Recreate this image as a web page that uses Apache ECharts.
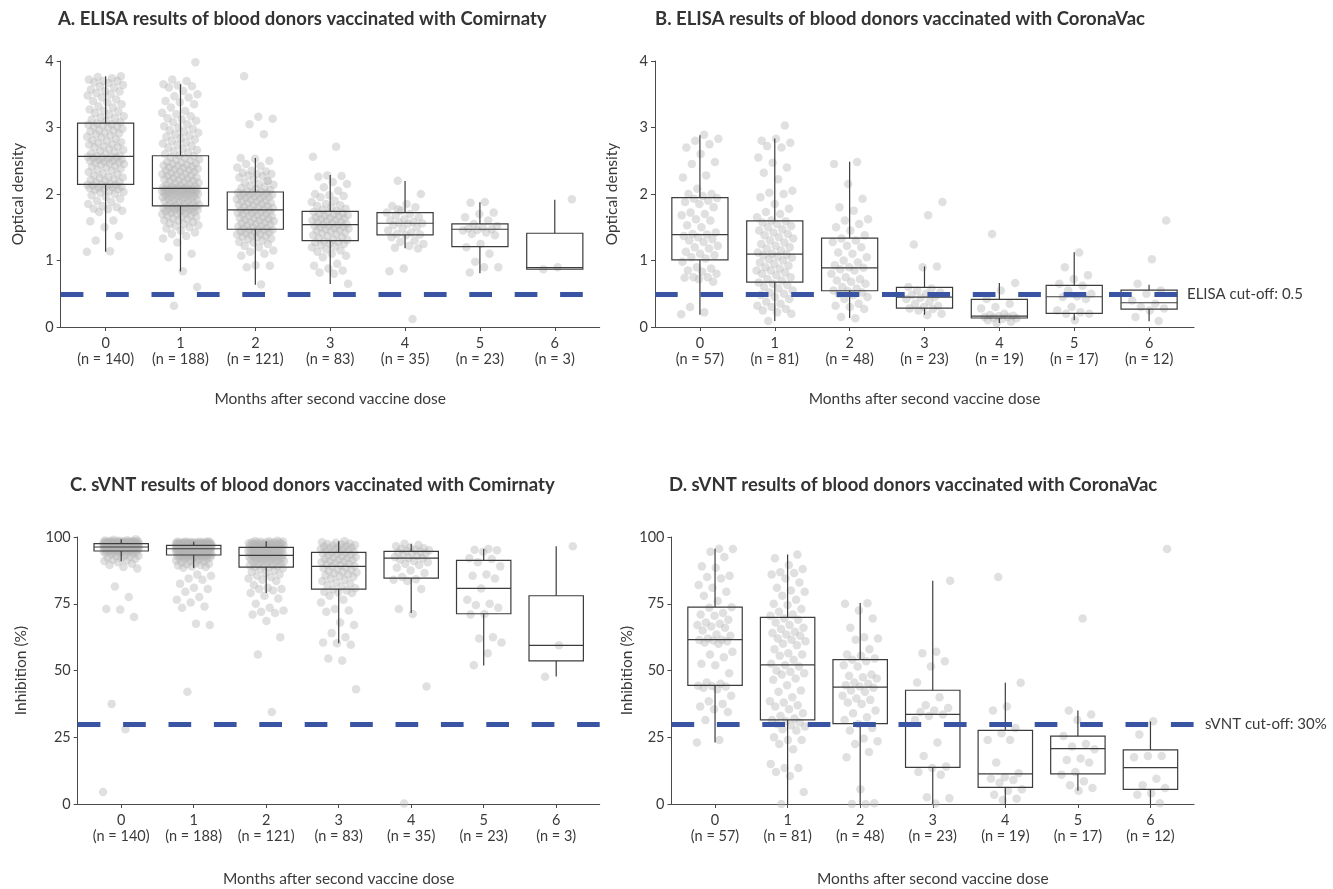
<!DOCTYPE html>
<html><head><meta charset="utf-8">
<script src="https://cdn.jsdelivr.net/npm/echarts@6/dist/echarts.min.js"></script>
<style>html,body{margin:0;padding:0;background:#fff}#c{width:1333px;height:889px}</style>
</head><body><div id="c"></div>
<script>
// ---------- data ----------
const months = ['0','1','2','3','4','5','6'];
const nComirnaty = [140,188,121,83,35,23,3];
const nCoronaVac = [57,81,48,23,19,17,12];
const titleA = 'A. ELISA results of blood donors vaccinated with Comirnaty';
const titleB = 'B. ELISA results of blood donors vaccinated with CoronaVac';
const titleC = 'C. sVNT results of blood donors vaccinated with Comirnaty';
const titleD = 'D. sVNT results of blood donors vaccinated with CoronaVac';
const xName = 'Months after second vaccine dose';
const elisaCutoff = 0.5;
const svntCutoff = 30;
const elisaTicks = [0,1,2,3,4];
const svntTicks = [0,25,50,75,100];

// box statistics per month: [min, Q1, median, Q3, max]
const boxA = [[1.13,2.145,2.565,3.065,3.77],[0.835,1.82,2.085,2.575,3.65],[0.635,1.47,1.76,2.03,2.54],[0.645,1.30,1.54,1.74,2.285],[1.185,1.385,1.56,1.72,2.195],[0.81,1.21,1.47,1.55,1.875],[0.87,0.87,0.895,1.41,1.915]];
const boxB = [[0.185,1.01,1.39,1.945,2.885],[0.09,0.675,1.095,1.595,2.835],[0.135,0.545,0.89,1.335,2.485],[0.185,0.285,0.45,0.595,0.91],[0.06,0.135,0.165,0.415,0.66],[0.10,0.205,0.455,0.625,1.125],[0.085,0.27,0.365,0.555,0.635]];
const boxC = [[90.9,94.75,96.25,97.5,99.2],[88.4,93.25,95.6,96.9,98.2],[79,88.75,93.1,96.1,98.4],[60.25,80.5,89,94.25,98.4],[71.5,84.6,92.1,94.6,97.5],[51.9,71.25,80.75,91.25,95.5],[47.75,53.6,59.4,78,96.5]];
const boxD = [[23,44.4,61.6,73.75,95.6],[0,31.5,52.1,69.9,93.4],[0,30.1,43.75,54.1,75.25],[0,13.75,33.6,42.6,83.6],[0,6.25,11.25,27.6,45.4],[5,11.25,20.75,25.4,35],[0,5.5,13.6,20.25,30.9]];

// individual donor values per month
const ptsA = [
 [1.13,1.14,1.3,1.37,1.5,1.59,1.6,1.73,1.75,1.77,1.78,1.8,1.82,1.85,1.88,1.9,1.93,1.96,1.98,2.0,2.02,2.03,2.05,2.06,2.07,2.08,2.09,2.1,2.1,2.11,2.12,2.13,2.13,2.14,2.14,
  2.15,2.17,2.18,2.2,2.21,2.22,2.24,2.25,2.26,2.28,2.3,2.31,2.33,2.35,2.36,2.38,2.4,2.41,2.42,2.44,2.45,2.46,2.47,2.48,2.49,2.5,2.5,2.51,2.52,2.53,2.54,2.55,2.55,2.56,2.56,
  2.57,2.58,2.6,2.61,2.63,2.65,2.66,2.68,2.7,2.71,2.72,2.74,2.75,2.77,2.78,2.8,2.81,2.83,2.85,2.86,2.88,2.9,2.91,2.92,2.94,2.95,2.96,2.98,3.0,3.01,3.02,3.03,3.04,3.05,3.06,
  3.08,3.1,3.12,3.14,3.15,3.17,3.2,3.22,3.24,3.25,3.27,3.3,3.32,3.35,3.38,3.4,3.42,3.45,3.48,3.5,3.52,3.54,3.55,3.57,3.6,3.62,3.64,3.67,3.68,3.7,3.7,3.72,3.74,3.76,3.77],
 [0.32,0.6,0.84,1.05,1.1,1.27,1.33,1.37,1.4,1.42,1.45,1.48,1.5,1.52,1.53,1.55,1.56,1.58,1.6,1.6,1.62,1.63,1.65,1.66,1.67,1.68,1.7,1.7,1.71,1.72,1.73,1.74,1.74,1.75,1.76,1.76,1.77,1.78,1.78,1.79,1.79,1.8,1.8,1.81,1.81,1.82,1.82,
  1.83,1.84,1.85,1.86,1.87,1.88,1.89,1.9,1.9,1.91,1.92,1.93,1.93,1.94,1.95,1.95,1.96,1.97,1.97,1.98,1.98,1.99,2.0,2.0,2.0,2.01,2.01,2.02,2.02,2.03,2.03,2.04,2.04,2.05,2.05,2.05,2.06,2.06,2.06,2.07,2.07,2.07,2.08,2.08,2.08,2.08,2.08,
  2.09,2.1,2.1,2.11,2.12,2.13,2.14,2.15,2.16,2.17,2.18,2.19,2.2,2.21,2.22,2.23,2.24,2.25,2.26,2.27,2.28,2.29,2.3,2.31,2.32,2.33,2.34,2.35,2.36,2.37,2.38,2.39,2.4,2.41,2.42,2.43,2.44,2.45,2.46,2.47,2.48,2.5,2.51,2.52,2.54,2.55,2.57,
  2.58,2.6,2.62,2.64,2.66,2.68,2.7,2.72,2.74,2.76,2.78,2.8,2.82,2.84,2.86,2.88,2.9,2.92,2.94,2.96,2.98,3.0,3.02,3.05,3.08,3.1,3.12,3.14,3.17,3.2,3.22,3.25,3.3,3.35,3.38,3.4,3.45,3.47,3.5,3.55,3.6,3.62,3.63,3.65,3.7,3.72,3.98],
 [0.64,0.9,0.92,0.93,1.07,1.1,1.13,1.15,1.2,1.22,1.25,1.27,1.28,1.3,1.32,1.33,1.35,1.36,1.37,1.38,1.39,1.4,1.41,1.42,1.43,1.44,1.45,1.45,1.46,1.47,
  1.48,1.49,1.5,1.51,1.52,1.53,1.54,1.55,1.56,1.57,1.58,1.59,1.6,1.61,1.62,1.63,1.64,1.65,1.66,1.67,1.68,1.69,1.7,1.71,1.72,1.73,1.74,1.74,1.75,1.76,
  1.77,1.78,1.79,1.8,1.81,1.82,1.83,1.84,1.85,1.86,1.87,1.88,1.89,1.9,1.91,1.92,1.93,1.94,1.95,1.96,1.97,1.97,1.98,1.99,2.0,2.0,2.01,2.02,2.02,2.03,
  2.04,2.06,2.08,2.09,2.1,2.12,2.14,2.15,2.17,2.2,2.22,2.25,2.27,2.28,2.3,2.3,2.32,2.34,2.35,2.4,2.42,2.45,2.5,2.53,2.54,2.9,3.05,3.13,3.16,3.77,2.2],
 [0.65,0.8,0.82,0.85,0.88,0.92,0.95,1.05,1.07,1.1,1.13,1.15,1.17,1.2,1.21,1.23,1.25,1.26,1.27,1.28,1.29,
  1.31,1.32,1.34,1.35,1.37,1.38,1.4,1.41,1.42,1.44,1.45,1.46,1.47,1.48,1.49,1.5,1.51,1.52,1.52,1.53,1.54,
  1.55,1.56,1.57,1.58,1.59,1.6,1.61,1.62,1.63,1.64,1.65,1.66,1.67,1.68,1.69,1.7,1.71,1.72,1.73,1.74,
  1.76,1.78,1.8,1.82,1.83,1.85,1.88,1.9,1.95,1.97,1.98,2.0,2.05,2.1,2.15,2.18,2.26,2.27,2.28,2.56,2.71],
 [2.2,2.0,1.85,1.82,1.8,1.75,1.72,1.7,1.68,1.65,1.62,1.6,1.58,1.57,1.56,1.55,1.53,1.5,1.48,1.45,1.42,1.4,1.39,1.38,1.35,1.3,1.28,1.25,1.22,1.19,1.18,0.88,0.84,0.12,1.77],
 [1.88,1.87,1.72,1.7,1.65,1.6,1.55,1.52,1.5,1.48,1.47,1.46,1.45,1.42,1.4,1.38,1.25,1.2,1.1,0.98,0.9,0.9,0.82],
 [1.92,0.9,0.87]
];
const ptsB = [
 [0.19,0.22,0.3,0.68,0.72,0.74,0.75,0.75,0.8,0.83,0.85,0.88,0.9,0.98,1.03,1.05,1.08,1.1,1.13,1.18,1.2,1.22,1.28,1.3,1.32,1.35,1.37,1.39,
  1.4,1.42,1.5,1.53,1.6,1.62,1.68,1.7,1.72,1.8,1.85,1.88,1.9,1.93,1.94,1.97,2.0,2.0,2.08,2.25,2.28,2.45,2.48,2.6,2.7,2.75,2.8,2.83,2.89],
 [0.09,0.2,0.22,0.25,0.27,0.3,0.32,0.35,0.38,0.42,0.45,0.48,0.5,0.52,0.55,0.58,0.6,0.63,0.65,0.67,
  0.7,0.72,0.75,0.78,0.8,0.82,0.85,0.85,0.88,0.9,0.92,0.95,0.97,1.0,1.02,1.04,1.06,1.08,1.09,1.1,
  1.12,1.15,1.18,1.2,1.22,1.25,1.27,1.3,1.33,1.35,1.38,1.4,1.42,1.45,1.47,1.5,1.52,1.55,1.57,1.59,1.6,
  1.65,1.7,1.73,1.78,1.85,1.95,2.0,2.02,2.05,2.22,2.32,2.4,2.47,2.55,2.7,2.72,2.77,2.83,2.8,3.03],
 [0.13,0.15,0.27,0.3,0.32,0.35,0.42,0.45,0.48,0.5,0.52,0.54,0.55,0.58,0.6,0.65,0.68,0.7,0.72,0.75,0.8,0.85,0.87,0.89,
  0.9,0.93,0.97,1.0,1.05,1.1,1.12,1.2,1.22,1.28,1.3,1.33,1.38,1.45,1.5,1.55,1.6,1.62,1.75,1.8,1.93,2.15,2.45,2.48],
 [1.88,1.68,1.24,0.91,0.9,0.6,0.58,0.55,0.52,0.5,0.48,0.45,0.44,0.42,0.38,0.35,0.32,0.3,0.28,0.27,0.25,0.2,0.18],
 [1.4,0.66,0.55,0.42,0.35,0.3,0.28,0.2,0.18,0.17,0.16,0.15,0.15,0.14,0.13,0.12,0.1,0.08,0.06],
 [1.12,0.9,0.78,0.72,0.65,0.62,0.55,0.5,0.46,0.45,0.42,0.3,0.25,0.22,0.2,0.2,0.1],
 [1.6,1.02,0.65,0.55,0.5,0.4,0.35,0.3,0.28,0.25,0.15,0.09]
];
const ptsC = [
 [4.5,28,37.5,70,72.8,73,77.5,81.5,
  88.2,88.8,89.5,90,90.5,91,91.2,91.5,91.8,92,92.2,92.5,92.8,93,93.2,93.5,93.7,93.9,94,94.1,94.2,94.3,94.4,94.5,94.6,94.7,94.7,
  94.8,94.9,95,95,95.1,95.1,95.2,95.2,95.3,95.3,95.4,95.4,95.5,95.5,95.6,95.6,95.7,95.7,95.8,95.8,95.9,95.9,96,96,96,96.1,96.1,96.1,96.2,96.2,96.2,96.2,96.3,96.3,96.3,
  96.3,96.4,96.4,96.4,96.5,96.5,96.5,96.6,96.6,96.6,96.7,96.7,96.7,96.8,96.8,96.8,96.9,96.9,96.9,97,97,97,97.1,97.1,97.1,97.2,97.2,97.2,97.3,97.3,97.3,97.4,97.4,97.4,97.5,
  97.5,97.5,97.6,97.6,97.6,97.7,97.7,97.7,97.8,97.8,97.8,97.9,97.9,97.9,98,98,98,98,98.1,98.1,98.1,98.2,98.2,98.2,98.3,98.3,98.4,98.4,98.5,98.5,98.6,98.7,98.8,99,99.2],
 [42,67,67.5,73.5,74,75.5,76.5,77.5,79.5,80.5,81,82.5,84,84.5,85.5,86,
  88.5,88.8,89,89.3,89.5,89.8,90,90.2,90.5,90.7,91,91.2,91.4,91.6,91.8,92,92.1,92.2,92.3,92.4,92.5,92.6,92.7,92.8,92.9,93,93,93.1,93.1,93.2,93.2,
  93.3,93.3,93.4,93.5,93.5,93.6,93.7,93.7,93.8,93.9,93.9,94,94.1,94.1,94.2,94.2,94.3,94.4,94.4,94.5,94.5,94.6,94.6,94.7,94.7,94.8,94.8,94.9,94.9,95,95,95,95.1,95.1,95.2,95.2,95.2,95.3,95.3,95.4,95.4,95.4,95.5,95.5,95.5,95.6,95.6,
  95.6,95.7,95.7,95.7,95.8,95.8,95.8,95.9,95.9,95.9,96,96,96,96,96.1,96.1,96.1,96.2,96.2,96.2,96.3,96.3,96.3,96.3,96.4,96.4,96.4,96.5,96.5,96.5,96.5,96.6,96.6,96.6,96.7,96.7,96.7,96.7,96.8,96.8,96.8,96.8,96.9,96.9,96.9,96.9,96.9,
  97,97,97,97,97.1,97.1,97.1,97.1,97.2,97.2,97.2,97.2,97.3,97.3,97.3,97.3,97.4,97.4,97.4,97.4,97.5,97.5,97.5,97.5,97.6,97.6,97.6,97.6,97.7,97.7,97.7,97.7,97.8,97.8,97.8,97.9,97.9,97.9,98,98,98,98.1,98.1,98.2,98.2,98.3,98.4],
 [34.5,56,62.5,68.5,71,71.5,72,72.5,73.5,75,77,78,
  79,80,80.5,80.5,81,82,83.5,84,84.5,85,85.5,86,86.5,87,87.5,88,88.3,88.6,
  88.8,89,89.2,89.4,89.6,89.8,90,90.2,90.4,90.5,90.7,90.9,91,91.2,91.3,91.5,91.6,91.8,91.9,92,92.2,92.3,92.4,92.5,92.6,92.7,92.8,92.9,93,93.1,
  93.2,93.3,93.4,93.5,93.6,93.7,93.8,93.9,94,94.1,94.2,94.3,94.4,94.5,94.6,94.7,94.8,94.9,95,95.1,95.2,95.3,95.4,95.5,95.6,95.7,95.8,95.9,96,96.1,
  96.2,96.3,96.4,96.5,96.6,96.7,96.8,96.9,97,97,97.1,97.2,97.2,97.3,97.4,97.4,97.5,97.6,97.6,97.7,97.8,97.8,97.9,98,98,98.1,98.2,98.3,98.4,98.5,98.6],
 [43,53.7,54.5,59.6,
  60.2,60.5,62.5,64,67,68,72,72.5,73,75.5,76.5,78,79,79.2,79.5,80,80.3,
  80.8,81.5,82,82.5,83,83.5,84,84.5,85,85.3,85.6,86,86.3,86.7,87,87.3,87.7,88,88.3,88.7,89,
  89.2,89.5,89.8,90,90.3,90.5,90.8,91,91.3,91.5,91.8,92,92.3,92.5,92.8,93,93.3,93.5,93.8,94,94.2,
  94.4,94.6,94.8,95,95.2,95.4,95.6,95.8,96,96.2,96.4,96.6,96.8,97,97.2,97.4,97.6,97.8,98,98.4],
 [0.2,44,71.2,73,80.5,83.5,84,84.2,85,86.5,87.5,88.5,89.5,90,90.5,91,91.5,92,92.1,92.5,93,93.5,93.8,94,94.3,94.5,94.8,95,95.2,95.5,95.8,96,96.5,97,97.5],
 [95.5,95.2,95,94.5,92,91.8,90.5,89,86,85.5,84.5,80.7,76.5,75,74.5,73.5,71.2,71,62.5,62,60.5,56.5,52],
 [96.5,59.5,47.7]
];
const ptsD = [
 [23,24,31.5,34.5,35.5,36.5,37.5,38.5,40.5,43,43.5,44,44.2,44.3,45,45.5,49,52,52.5,55,56,57,60,60.5,61,61.2,61.4,61.5,
  62,63,63.5,65,66,66.5,67,67.5,68,69,70.5,71,71.5,73.5,73.7,76,78,79.5,81,82,84.5,85,85.5,88.5,89,92.5,94.5,95.5,95.6],
 [0,4.5,10.5,12,13.5,13.5,15,20.5,22.5,24,24,25,27.5,28,29,29.5,30,30.5,31,31.5,
  32,33,34,35.5,36.5,37,38,38.5,40,42,42.5,44.5,46.5,47,48.5,49,49.5,50,51.5,52,
  52.5,54,55.5,56,56.5,58,59.5,60,61,61.5,62,63,63.5,64,64.5,65.5,66,67,68,69,69.5,
  70.5,71,72,73,74.5,75,76.5,78,79.5,80,81,83,84.5,86,86.5,86.8,88,89.5,92,93.4],
 [0,0,0.3,5.5,17.5,19.5,22.5,23.5,24.5,27.5,28.5,30,31.5,32.5,34,35,37.5,38,39,39.5,40.5,42,42.5,43.5,
  44,44.5,45,45.5,47,47.5,48,48.5,51.5,52,53.5,54,54.5,55.5,56,58,61.5,62,62.5,66,69.5,72.5,75,75.2],
 [83.6,57,56.5,53.5,51.5,45.5,40,37,36,35,34.5,33.5,33,31.5,23,18,14,13.5,12,11,2.5,2.2,0.2],
 [85,45.4,36.5,35,28.5,26.5,24,24,15.5,11.5,10,9.5,9,8,5.5,5,3.5,2,1.5],
 [69.5,35,33.5,31.5,25.5,22.5,21.5,20.5,17,16.5,15.5,12,11,8.5,7,6,5],
 [95.5,31,26,18,18,17.5,9.5,7,6,4,3.5,0.3]
];

// ---------- chart ----------
const FONT = 'Lato';
const TXT = '#3a3a3a';
const AX = '#4a4a4a';
const CUT = '#3a54a4';

function jitter(i) { return (((i * 0.6180339887) % 1) - 0.5) * 0.5; }
function scatterData(pts) {
  const out = [];
  pts.forEach((arr, c) => arr.forEach((v, i) => out.push([c + jitter(i + c * 7), v])));
  return out;
}
function boxData(box) { return box.map((b, i) => [i].concat(b)); }

function boxRender(params, api) {
  const x = api.value(0), mn = api.value(1), q1 = api.value(2), md = api.value(3), q3 = api.value(4), mx = api.value(5);
  const hw = 0.375;
  const tl = api.coord([x - hw, q3]);
  const br = api.coord([x + hw, q1]);
  const mL = api.coord([x - hw, md]);
  const mR = api.coord([x + hw, md]);
  const top = api.coord([x, mx]);
  const qt = api.coord([x, q3]);
  const qb = api.coord([x, q1]);
  const bot = api.coord([x, mn]);
  const st = { stroke: '#3c3c3c', lineWidth: 1.2, fill: null };
  const children = [
    { type: 'rect', shape: { x: tl[0], y: tl[1], width: br[0] - tl[0], height: br[1] - tl[1] }, style: { stroke: '#3c3c3c', lineWidth: 1.2, fill: 'rgba(0,0,0,0)' } },
    { type: 'line', shape: { x1: mL[0], y1: mL[1], x2: mR[0], y2: mR[1] }, style: st }
  ];
  if (mx > q3) children.push({ type: 'line', shape: { x1: top[0], y1: top[1], x2: qt[0], y2: qt[1] }, style: st });
  if (mn < q1) children.push({ type: 'line', shape: { x1: qb[0], y1: qb[1], x2: bot[0], y2: bot[1] }, style: st });
  return { type: 'group', children };
}

const grids = [
  { left: 60.7, top: 61, width: 539, height: 266 },
  { left: 655, top: 61, width: 539, height: 266 },
  { left: 77.7, top: 537, width: 522, height: 267 },
  { left: 671.5, top: 537, width: 522.5, height: 267 }
];
const nArr = [nComirnaty, nCoronaVac, nComirnaty, nCoronaVac];
const yNames = ['Optical density', 'Optical density', 'Inhibition (%)', 'Inhibition (%)'];
const yGaps = [35, 35, 49, 35];
const xGaps = [64, 64, 67, 67];
const ticks = [elisaTicks, elisaTicks, svntTicks, svntTicks];

const xAxes = grids.map((g, k) => ({
  gridIndex: k, type: 'value', min: -0.6, max: 6.6,
  name: xName, nameLocation: 'middle', nameGap: xGaps[k],
  nameTextStyle: { fontFamily: FONT, fontSize: 15.5, color: TXT },
  axisLine: { onZero: false, lineStyle: { color: AX, width: 1 } },
  axisTick: { show: true, length: 4, lineStyle: { color: AX }, customValues: [0,1,2,3,4,5,6] },
  axisLabel: { customValues: [0,1,2,3,4,5,6], margin: 8, fontFamily: FONT, fontSize: 14.5, color: TXT, lineHeight: 16.5,
    formatter: v => { const i = Math.round(v); return months[i] + '\n(n = ' + nArr[k][i] + ')'; } },
  splitLine: { show: false }
}));
const yAxes = grids.map((g, k) => ({
  gridIndex: k, type: 'value', min: ticks[k][0], max: ticks[k][4], interval: ticks[k][1] - ticks[k][0],
  name: yNames[k], nameLocation: 'middle', nameGap: yGaps[k],
  nameTextStyle: { fontFamily: FONT, fontSize: 15.5, color: TXT },
  axisLine: { show: true, onZero: false, lineStyle: { color: AX, width: 1 } },
  axisTick: { show: true, length: 4, lineStyle: { color: AX } },
  axisLabel: { margin: 7, fontFamily: FONT, fontSize: 14.5, color: TXT },
  splitLine: { show: false }
}));

const pts = [ptsA, ptsB, ptsC, ptsD];
const boxes = [boxA, boxB, boxC, boxD];
const cutVals = [elisaCutoff, elisaCutoff, svntCutoff, svntCutoff];
const cutLabels = [null, 'ELISA cut-off: 0.5', null, 'sVNT cut-off: 30%'];
const cutDist = [0, -7, 0, 11];

const series = [];
for (let k = 0; k < 4; k++) {
  series.push({
    type: 'scatter', xAxisIndex: k, yAxisIndex: k, data: scatterData(pts[k]),
    symbolSize: 8.5, itemStyle: { color: '#b4b4b4', opacity: 0.42 }, silent: true, z: 2
  });
  series.push({
    type: 'custom', xAxisIndex: k, yAxisIndex: k, data: boxData(boxes[k]),
    encode: { x: 0, y: [1,2,3,4,5] }, renderItem: boxRender, silent: true, z: 3
  });
  series.push({
    type: 'line', xAxisIndex: k, yAxisIndex: k, data: [], z: 4,
    markLine: {
      silent: true, symbol: ['none', 'none'], animation: false,
      data: [{ yAxis: cutVals[k] }],
      lineStyle: { color: CUT, width: 5, type: [22.7, 22.7] },
      label: cutLabels[k] ? { show: true, position: 'end', distance: cutDist[k], formatter: cutLabels[k], fontFamily: FONT, fontSize: 15, color: TXT } : { show: false }
    }
  });
}

const titleStyle = { fontFamily: FONT, fontSize: 18.5, fontWeight: 'bold', color: '#333' };
const option = {
  animation: false,
  backgroundColor: '#fff',
  title: [
    { text: titleA, left: 58, top: 10, padding: 0, textStyle: titleStyle },
    { text: titleB, left: 655, top: 10, padding: 0, textStyle: titleStyle },
    { text: titleC, left: 70, top: 476, padding: 0, textStyle: titleStyle },
    { text: titleD, left: 669, top: 476, padding: 0, textStyle: titleStyle }
  ],
  grid: grids,
  xAxis: xAxes,
  yAxis: yAxes,
  series
};
const chart = echarts.init(document.getElementById('c'), null, { renderer: 'canvas' });
chart.setOption(option);
</script>
</body></html>
